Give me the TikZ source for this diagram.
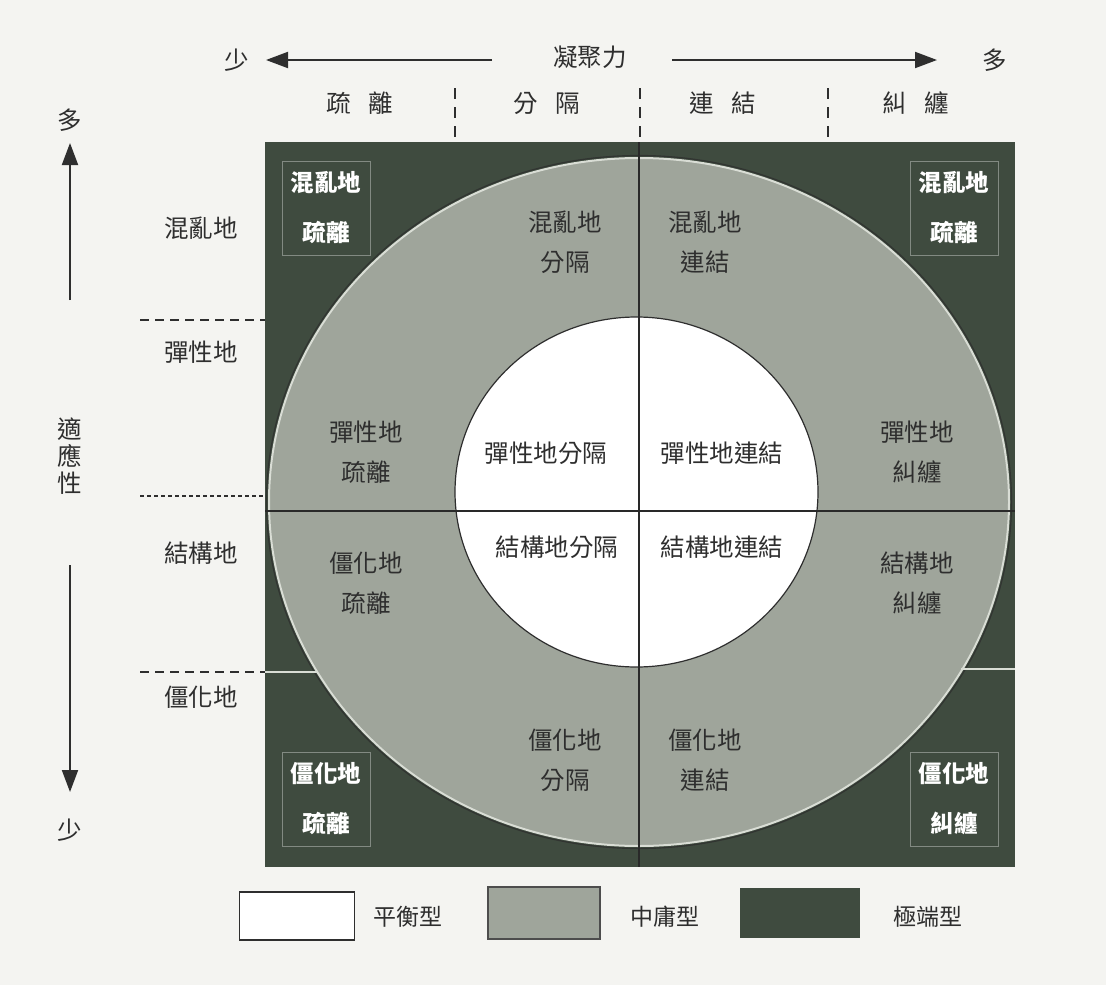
\documentclass[tikz,border=0pt]{standalone}
\usepackage{fontspec}
\setmainfont{Noto Sans CJK TC}
\usetikzlibrary{arrows.meta,shapes.geometric}
\definecolor{bg}{HTML}{F4F4F1}
\definecolor{darkreg}{HTML}{3F4B3F}
\definecolor{midreg}{HTML}{9FA59B}
\definecolor{ink}{HTML}{2E2E2E}
\definecolor{rim}{HTML}{D9DDD5}
\begin{document}
\begin{tikzpicture}[x=1pt,y=-1pt,
  lab/.style={font=\fontsize{24.5}{40}\selectfont, text=ink, align=center, inner sep=0pt},
  leglab/.style={font=\fontsize{23}{28}\selectfont, text=ink, inner sep=0pt},
  wlab/.style={font=\bfseries\fontsize{23.5}{50}\selectfont, text=white, align=center, inner sep=0pt,
     draw=darkreg!65!white, line width=0.7pt, minimum width=88pt, minimum height=94pt},
  axisarrow/.style={draw=ink, line width=2pt, -{Triangle[length=22pt,width=16pt]}},
  sep/.style={draw=ink, line width=1.6pt, dash pattern=on 11pt off 8pt},
  ldash/.style={draw=ink, line width=1.3pt, dash pattern=on 9pt off 6pt},
  ldot/.style={draw=ink, line width=1.1pt, dash pattern=on 4pt off 3pt},
  cross/.style={draw=ink!90!black, line width=1.3pt},
  lightline/.style={draw=rim, line width=1.3pt},
  legbox/.style={minimum width=115pt, minimum height=48pt, inner sep=0pt}]
\useasboundingbox (0,0) rectangle (1106,985);
\fill[bg] (0,0) rectangle (1106,985);

% top axis
\node[lab] (lessT) at (237,60) {少};
\node[lab] (coh) at (590,57) {凝聚力};
\node[lab] (moreT) at (995,60) {多};
\coordinate (tlS) at (492,60);
\coordinate (tlE) at (266,60);
\coordinate (trS) at (672,60);
\coordinate (trE) at (937,60);
\draw[axisarrow] (tlS) -- (tlE);
\draw[axisarrow] (trS) -- (trE);

\node[lab] (c1) at (360,103) {疏\hspace{18pt}離};
\node[lab] (c2) at (547,103) {分\hspace{18pt}隔};
\node[lab] (c3) at (723,103) {連\hspace{18pt}結};
\node[lab] (c4) at (916,103) {糾\hspace{18pt}纏};
\coordinate (s1a) at (455,88); \coordinate (s1b) at (455,137);
\coordinate (s2a) at (640,88); \coordinate (s2b) at (640,137);
\coordinate (s3a) at (828,88); \coordinate (s3b) at (828,137);
\draw[sep] (s1a) -- (s1b);
\draw[sep] (s2a) -- (s2b);
\draw[sep] (s3a) -- (s3b);

% left axis
\node[lab] (moreL) at (70,120) {多};
\node[lab, font=\fontsize{24.5}{27}\selectfont] (adapt) at (70,456) {適\\應\\性};
\node[lab] (lessL) at (70,830) {少};
\coordinate (luS) at (70,300);
\coordinate (luE) at (70,143);
\coordinate (ldS) at (70,565);
\coordinate (ldE) at (70,792);
\draw[axisarrow] (luS) -- (luE);
\draw[axisarrow] (ldS) -- (ldE);

\node[lab] (r1) at (201,228) {混亂地};
\node[lab] (r2) at (201,352) {彈性地};
\node[lab] (r3) at (201,553) {結構地};
\node[lab] (r4) at (201,697) {僵化地};

% main square
\node[fill=darkreg, minimum width=750pt, minimum height=725pt, inner sep=0pt, outer sep=0pt] (sq) at (640,504.5) {};
\coordinate (d1a) at (140,320); \coordinate (d1b) at (sq.west |- d1a);
\coordinate (d2a) at (140,496); \coordinate (d2b) at (sq.west |- d2a);
\coordinate (d3a) at (140,672); \coordinate (d3b) at (sq.west |- d3a);
\draw[ldash] (d1a) -- (d1b);
\draw[ldot] (d2a) -- (d2b);
\draw[ldash] (d3a) -- (d3b);

% middle ellipse
\node[ellipse, fill=midreg, draw=rim, line width=2pt, minimum width=740pt, minimum height=688pt, inner sep=0pt] (outer) at (639,502) {};
\node[ellipse, draw=ink!80!darkreg, line width=1.2pt, minimum width=745pt, minimum height=693pt, inner sep=0pt] (outerrim) at (639,502) {};

% inner circle
\node[ellipse, fill=white, draw=ink, line width=1.2pt, minimum width=363pt, minimum height=350pt, inner sep=0pt] (inner) at (636.5,492) {};

% cross lines
\coordinate (hL) at (sq.west |- 0,511);
\coordinate (hR) at (sq.east |- 0,511);
\coordinate (vT) at (sq.north -| 639,0);
\coordinate (vB) at (sq.south -| 639,0);
\draw[cross] (vT) -- (vB);
\draw[cross] (hL) -- (hR);

% light lines at the lower band
\coordinate (lL1) at (sq.west |- 0,672);
\coordinate (lL2) at (317,672);
\coordinate (lR1) at (961,669);
\coordinate (lR2) at (sq.east |- 0,669);
\draw[lightline] (lL1) -- (lL2);
\draw[lightline] (lR1) -- (lR2);

% corner boxes
\node[wlab] (ctl) at (326,208) {混亂地\\疏離};
\node[wlab] (ctr) at (954,208) {混亂地\\疏離};
\node[wlab] (cbl) at (326,799) {僵化地\\疏離};
\node[wlab] (cbr) at (954,799) {僵化地\\糾纏};

% middle band labels
\node[lab] (m1) at (565,242) {混亂地\\分隔};
\node[lab] (m2) at (705,242) {混亂地\\連結};
\node[lab] (m3) at (366,452) {彈性地\\疏離};
\node[lab] (m4) at (366,583) {僵化地\\疏離};
\node[lab] (m5) at (917,452) {彈性地\\糾纏};
\node[lab] (m6) at (917,583) {結構地\\糾纏};
\node[lab] (m7) at (565,760) {僵化地\\分隔};
\node[lab] (m8) at (705,760) {僵化地\\連結};

% inner labels
\node[lab] (i1) at (546,453) {彈性地分隔};
\node[lab] (i2) at (722,453) {彈性地連結};
\node[lab] (i3) at (557,547) {結構地分隔};
\node[lab] (i4) at (722,547) {結構地連結};

% legend
\node[legbox, fill=white, draw=ink, line width=1.4pt] (lg1) at (297,916) {};
\node[leglab, anchor=west] (lt1) at (373,917) {平衡型};
\node[legbox, fill=midreg, draw=ink!85, line width=1.4pt, minimum width=112pt, minimum height=52pt] (lg2) at (544,913) {};
\node[leglab, anchor=west] (lt2) at (630,917) {中庸型};
\node[legbox, fill=darkreg, minimum width=120pt, minimum height=50pt] (lg3) at (800,913) {};
\node[leglab, anchor=west] (lt3) at (893,917) {極端型};
\end{tikzpicture}
\end{document}
